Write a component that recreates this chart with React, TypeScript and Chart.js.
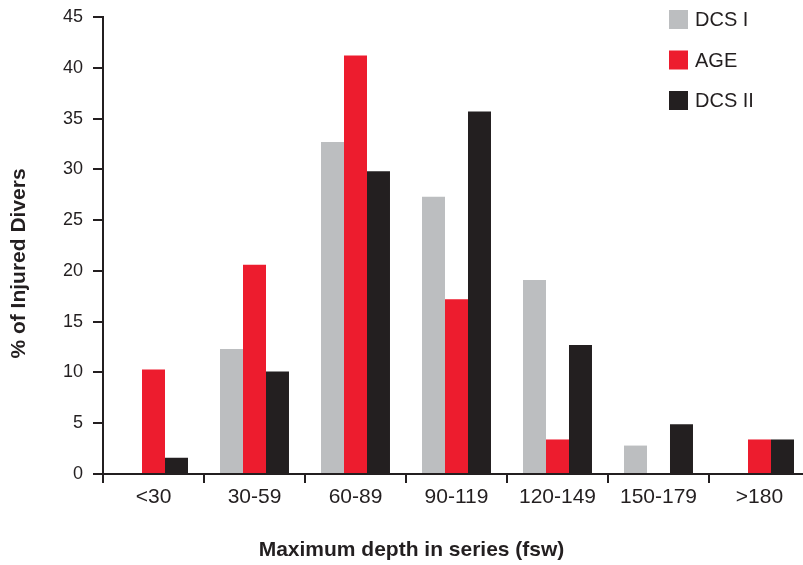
import React, { useEffect, useRef } from "react";
import { Chart, registerables } from "chart.js";

Chart.register(...registerables);

const categories = ["<30", "30-59", "60-89", "90-119", "120-149", "150-179", ">180"];
const dcs1Values = [0, 12.3, 32.7, 27.3, 19.1, 2.8, 0];
const ageValues = [10.3, 20.6, 41.2, 17.2, 3.4, 0, 3.4];
const dcs2Values = [1.6, 10.1, 29.8, 35.7, 12.7, 4.9, 3.4];
const seriesNames = ["DCS I", "AGE", "DCS II"];
const yMin = 0;
const yMax = 45;
const yStep = 5;
const xTitle = "Maximum depth in series (fsw)";
const yTitle = "% of Injured Divers";

const TEXT = "#231f20";
const GRAY = "#bcbec0";
const RED = "#ed1c2e";
const BLACK = "#231f20";
const FONT = '"Liberation Sans", Arial, Helvetica, sans-serif';

const overlayPlugin = {
  id: "overlay",
  afterDraw(chart: any) {
    const ctx = chart.ctx as CanvasRenderingContext2D;
    const area = chart.chartArea;
    ctx.save();
    // legend
    ctx.textAlign = "left";
    ctx.textBaseline = "middle";
    ctx.font = `20px ${FONT}`;
    chart.data.datasets.forEach((ds: any, i: number) => {
      const cy = area.top + 2.5 + i * 40.5;
      const lx = area.right - 141;
      ctx.fillStyle = ds.backgroundColor;
      ctx.fillRect(lx, cy - 9.5, 19, 19);
      ctx.fillStyle = TEXT;
      ctx.fillText(ds.label, lx + 26, cy + 1);
    });
    // x title
    ctx.fillStyle = TEXT;
    ctx.font = `bold 21px ${FONT}`;
    ctx.textAlign = "center";
    ctx.fillText(xTitle, area.left + 308.5, area.bottom + 76);
    // y title
    ctx.translate(area.left - 84, area.top + 246.5);
    ctx.rotate(-Math.PI / 2);
    ctx.fillText(yTitle, 0, 0);
    ctx.restore();
  },
};

export default function App() {
  const ref = useRef<HTMLCanvasElement>(null);

  useEffect(() => {
    if (!ref.current) return;
    const chart = new Chart(ref.current, {
      type: "bar",
      data: {
        labels: categories,
        datasets: [
          { label: seriesNames[0], data: dcs1Values, backgroundColor: GRAY, borderWidth: 0 },
          { label: seriesNames[1], data: ageValues, backgroundColor: RED, borderWidth: 0 },
          { label: seriesNames[2], data: dcs2Values, backgroundColor: BLACK, borderWidth: 0 },
        ],
      },
      options: {
        responsive: false,
        animation: false,
        devicePixelRatio: 1,
        layout: { padding: { top: 17, right: 5, left: 0, bottom: 0 } },
        datasets: {
          bar: { categoryPercentage: 0.683, barPercentage: 1 },
        },
        plugins: {
          legend: { display: false },
          tooltip: { enabled: false },
          title: { display: false },
        },
        scales: {
          x: {
            offset: true,
            afterFit: (scale: any) => {
              scale.height = 91;
            },
            grid: {
              offset: true,
              drawOnChartArea: false,
              drawTicks: true,
              tickLength: 9,
              lineWidth: 2,
              color: TEXT,
            },
            border: { display: true, color: TEXT, width: 2 },
            ticks: {
              color: TEXT,
              font: { family: FONT, size: 21 },
              padding: 2,
              maxRotation: 0,
              autoSkip: false,
            },
          },
          y: {
            min: yMin,
            max: yMax,
            afterFit: (scale: any) => {
              scale.width = 103;
              scale.paddingTop = 0;
              scale.paddingBottom = 0;
            },
            grid: {
              drawOnChartArea: false,
              drawTicks: true,
              tickLength: 10,
              lineWidth: 2,
              color: TEXT,
            },
            border: { display: true, color: TEXT, width: 2 },
            ticks: {
              stepSize: yStep,
              color: TEXT,
              font: { family: FONT, size: 18 },
              padding: 10,
            },
          },
        },
      },
      plugins: [overlayPlugin],
    });
    return () => chart.destroy();
  }, []);

  return (
    <div
      style={{
        position: "fixed",
        left: 0,
        top: 0,
        width: 803,
        height: 565,
        overflow: "hidden",
        background: "#fff",
      }}
    >
      <canvas ref={ref} width={815} height={565} style={{ display: "block" }} />
    </div>
  );
}
